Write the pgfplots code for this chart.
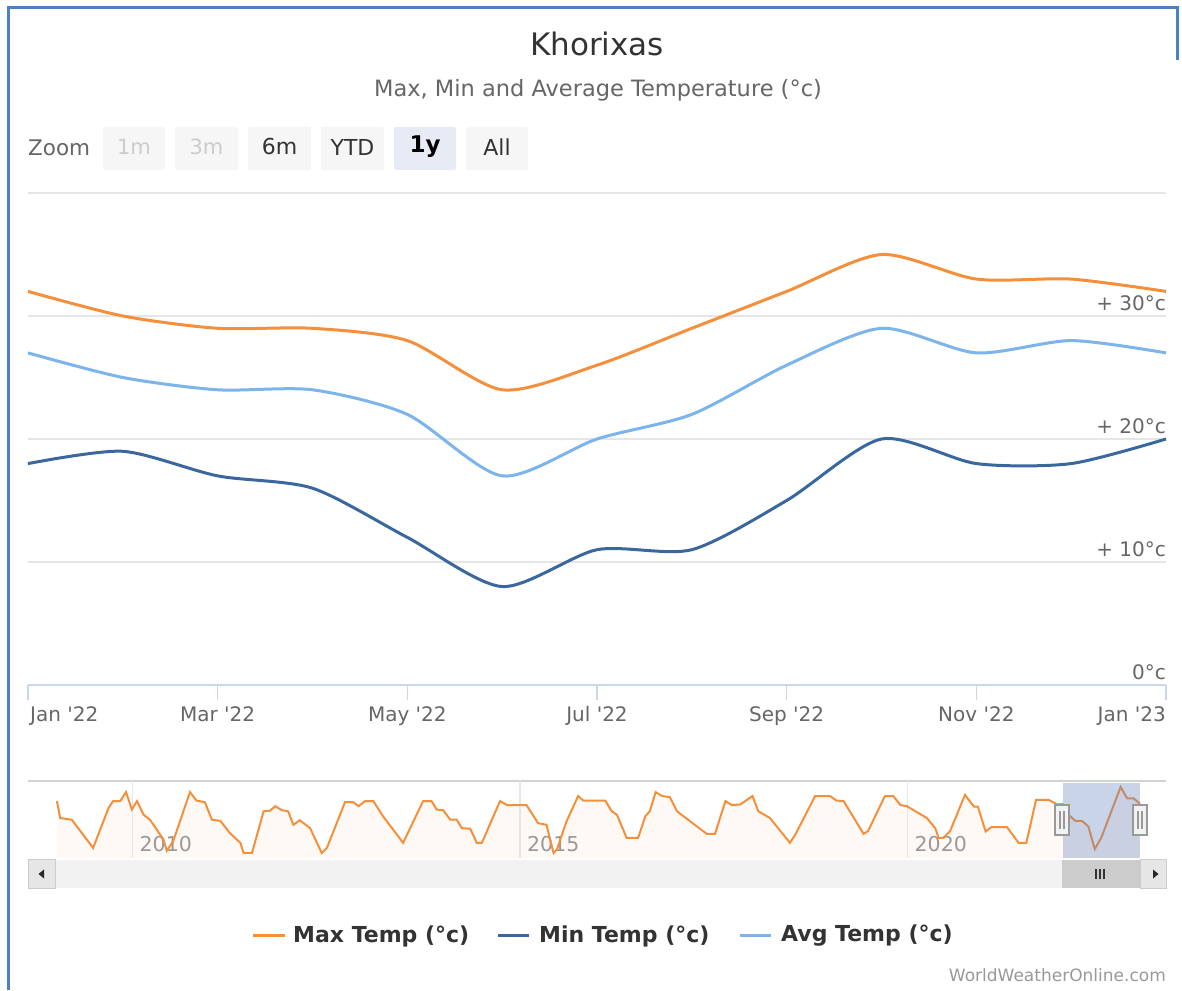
\documentclass[border=0pt]{standalone}
\usepackage{pgfplots}
\pgfplotsset{compat=1.18}
\usepackage{fontspec}
\newfontfamily\dv{DejaVu Sans}
\definecolor{maxc}{RGB}{244,144,60}
\definecolor{minc}{RGB}{58,104,158}
\definecolor{avgc}{RGB}{124,180,236}
\definecolor{gridc}{RGB}{230,230,230}
\definecolor{axc}{RGB}{204,214,235}
\definecolor{txt}{RGB}{51,51,51}
\definecolor{sub}{RGB}{102,102,102}
\definecolor{btn}{RGB}{246,246,246}
\definecolor{btnsel}{RGB}{230,235,245}
\definecolor{dis}{RGB}{204,204,204}
\definecolor{navfill}{RGB}{254,249,244}
\definecolor{maskc}{RGB}{102,133,194}
\definecolor{framec}{RGB}{74,128,200}
\definecolor{navline}{RGB}{210,210,210}
\definecolor{track}{RGB}{242,242,242}
\definecolor{sbtn}{RGB}{230,230,230}
\definecolor{thumb}{RGB}{204,204,204}
\definecolor{foot}{RGB}{153,153,153}
\newcommand{\fs}[1]{\fontsize{#1}{#1}\selectfont}
\begin{document}
\begin{tikzpicture}[x=1pt,y=1pt]
\fill[white] (0,0) rectangle (1182,990);
% frame
\draw[framec, line width=3] (8,0) -- (8,982) -- (1177,982) -- (1177,930);
% titles
\node[font=\dv\fs{31}, text=txt] at (597,946) {Khorixas};
\node[font=\dv\fs{22.5}, text=sub] at (598,900) {Max, Min and Average Temperature (°c)};
% zoom buttons
\node[font=\dv\fs{21.5}, text=sub, anchor=west, inner sep=0] at (28,842) {Zoom};
\fill[btn, rounded corners=2] (103,820) rectangle (165,863);
\fill[btn, rounded corners=2] (175,820) rectangle (238,863);
\fill[btn, rounded corners=2] (248,820) rectangle (311,863);
\fill[btn, rounded corners=2] (321,820) rectangle (384,863);
\fill[btnsel, rounded corners=2] (394,820) rectangle (456,863);
\fill[btn, rounded corners=2] (466,820) rectangle (528,863);
\node[font=\dv\fs{21}, text=dis] at (134,843) {1m};
\node[font=\dv\fs{21}, text=dis] at (206.5,843) {3m};
\node[font=\dv\fs{22}, text=txt] at (279.5,843) {6m};
\node[font=\dv\fs{22}, text=txt] at (352.5,843) {YTD};
\node[font=\dv\bfseries\fs{23}, text=black] at (425,843) {1y};
\node[font=\dv\fs{22}, text=txt] at (497,843) {All};
% main chart
\begin{axis}[at={(28pt,305pt)}, anchor=south west, scale only axis,
  width=1138pt, height=492pt, xmin=0, xmax=12, ymin=0, ymax=40,
  hide axis, clip=false]
\draw[gridc, line width=1.5pt] (axis cs:0,10) -- (axis cs:12,10);
\draw[gridc, line width=1.5pt] (axis cs:0,20) -- (axis cs:12,20);
\draw[gridc, line width=1.5pt] (axis cs:0,30) -- (axis cs:12,30);
\draw[gridc, line width=1.5pt] (axis cs:0,40) -- (axis cs:12,40);
\addplot[maxc, line width=3pt, smooth, tension=0.45] coordinates {
(0,32)(1,30)(2,29)(3,29)(4,28)(5,24)(6,26)(7,29)(8,32)(9,35)(10,33)(11,33)(12,32)};
\addplot[minc, line width=3pt, smooth, tension=0.45] coordinates {
(0,18)(1,19)(2,17)(3,16)(4,12)(5,8)(6,11)(7,11)(8,15)(9,20)(10,18)(11,18)(12,20)};
\addplot[avgc, line width=3pt, smooth, tension=0.45] coordinates {
(0,27)(1,25)(2,24)(3,24)(4,22)(5,17)(6,20)(7,22)(8,26)(9,29)(10,27)(11,28)(12,27)};
\draw[axc, line width=2pt] (axis cs:0,0) -- (axis cs:12,0);
\draw[axc, line width=1.5pt] (axis cs:0,0) -- ++(0pt,-15pt);
\draw[axc, line width=1.5pt] (axis cs:2,0) -- ++(0pt,-15pt);
\draw[axc, line width=1.5pt] (axis cs:4,0) -- ++(0pt,-15pt);
\draw[axc, line width=1.5pt] (axis cs:6,0) -- ++(0pt,-15pt);
\draw[axc, line width=1.5pt] (axis cs:8,0) -- ++(0pt,-15pt);
\draw[axc, line width=1.5pt] (axis cs:10,0) -- ++(0pt,-15pt);
\draw[axc, line width=1.5pt] (axis cs:12,0) -- ++(0pt,-15pt);
\node[font=\dv\fs{20}, text=sub, anchor=base west, inner sep=0] at (axis cs:0,0) [xshift=2pt, yshift=-37pt] {Jan '22};
\node[font=\dv\fs{20}, text=sub, anchor=base, inner sep=0] at (axis cs:2,0) [yshift=-37pt] {Mar '22};
\node[font=\dv\fs{20}, text=sub, anchor=base, inner sep=0] at (axis cs:4,0) [yshift=-37pt] {May '22};
\node[font=\dv\fs{20}, text=sub, anchor=base, inner sep=0] at (axis cs:6,0) [yshift=-37pt] {Jul '22};
\node[font=\dv\fs{20}, text=sub, anchor=base, inner sep=0] at (axis cs:8,0) [yshift=-37pt] {Sep '22};
\node[font=\dv\fs{20}, text=sub, anchor=base, inner sep=0] at (axis cs:10,0) [yshift=-37pt] {Nov '22};
\node[font=\dv\fs{20}, text=sub, anchor=base east, inner sep=0] at (axis cs:12,0) [yshift=-37pt] {Jan '23};
\node[font=\dv\fs{20}, text=sub, anchor=base east, inner sep=0] at (axis cs:12,0) [yshift=5pt] {0°c};
\node[font=\dv\fs{20}, text=sub, anchor=base east, inner sep=0] at (axis cs:12,10) [yshift=5pt] {+ 10°c};
\node[font=\dv\fs{20}, text=sub, anchor=base east, inner sep=0] at (axis cs:12,20) [yshift=5pt] {+ 20°c};
\node[font=\dv\fs{20}, text=sub, anchor=base east, inner sep=0] at (axis cs:12,30) [yshift=5pt] {+ 30°c};
\end{axis}
% navigator
\draw[navline, line width=2pt] (28,209) -- (1166,209);
\begin{axis}[at={(55pt,132pt)}, anchor=south west, scale only axis,
  width=1085pt, height=75pt, xmin=0, xmax=168, ymin=22.41, ymax=35.71,
  hide axis, clip=false]
\addplot[draw=none, fill=navfill] coordinates {
(0.3,32.5)(0.8,29.5)(2.6,29.2)(5.9,24.2)(8.3,31.3)(9.0,32.5)(10.1,32.5)(11.0,34.1)(11.9,31.0)(12.7,32.5)(13.7,30.1)(14.7,29.2)(16.8,25.7)(17.3,23.7)(18.3,25.4)(20.9,34.1)(21.9,32.6)(23.2,32.3)(24.3,29.2)(25.6,29.0)(27.1,26.8)(28.7,25.1)(29.2,23.3)(30.5,23.3)(32.3,30.7)(33.3,30.8)(34.1,31.6)(35.1,30.9)(36.1,30.7)(36.9,28.3)(37.9,29.1)(39.5,27.7)(41.3,23.3)(42.1,24.2)(44.9,32.3)(46.2,32.3)(47.0,31.6)(48.0,32.5)(49.3,32.5)(50.8,29.8)(53.9,25.1)(57.0,32.5)(58.3,32.5)(59.1,31.0)(60.1,30.9)(61.2,29.2)(62.2,29.2)(63.0,27.7)(64.3,27.6)(65.3,25.1)(66.1,25.1)(68.9,32.5)(70.0,31.8)(73.0,31.8)(74.8,28.6)(76.1,28.3)(77.2,23.3)(77.7,23.9)(79.2,28.9)(81.0,33.4)(81.8,32.6)(85.2,32.6)(86.2,30.7)(87.0,30.1)(88.5,26.0)(90.3,26.0)(91.4,29.8)(92.1,30.7)(93.0,34.1)(94.0,33.4)(95.2,33.2)(96.3,30.7)(100.9,26.7)(102.2,26.7)(103.8,32.5)(104.8,31.8)(106.1,31.9)(108.0,33.4)(108.9,30.7)(110.7,29.5)(113.8,25.1)(114.6,26.5)(117.7,33.4)(120.0,33.4)(121.0,32.6)(122.1,32.5)(125.2,26.7)(125.9,27.2)(128.5,33.4)(129.8,33.4)(130.9,31.8)(131.9,31.6)(135.0,29.5)(136.3,27.7)(136.8,26.0)(137.6,26.0)(138.6,27.2)(140.9,33.6)(142.3,31.5)(142.9,31.5)(144.1,27.1)(145.0,27.9)(147.4,27.9)(149.2,25.1)(150.4,25.1)(151.9,32.7)(153.9,32.7)(155.2,31.9)
(156,32)(157,30)(158,29)(159,29)(160,28)(161,24)(162,26)(163,29)(164,32)(165,35)(166,33)(167,33)(168,32)} \closedcycle;
\draw[gridc, line width=1.5pt] (axis cs:12,22.41) -- ++(0pt,77pt);
\draw[gridc, line width=1.5pt] (axis cs:72,22.41) -- ++(0pt,77pt);
\draw[gridc, line width=1.5pt] (axis cs:132,22.41) -- ++(0pt,77pt);
\node[font=\dv\fs{20.5}, text=foot, anchor=base west, inner sep=0] at (axis cs:12,22.41) [xshift=7pt, yshift=7pt] {2010};
\node[font=\dv\fs{20.5}, text=foot, anchor=base west, inner sep=0] at (axis cs:72,22.41) [xshift=7pt, yshift=7pt] {2015};
\node[font=\dv\fs{20.5}, text=foot, anchor=base west, inner sep=0] at (axis cs:132,22.41) [xshift=7pt, yshift=7pt] {2020};
\addplot[maxc, line width=2pt] coordinates {
(0.3,32.5)(0.8,29.5)(2.6,29.2)(5.9,24.2)(8.3,31.3)(9.0,32.5)(10.1,32.5)(11.0,34.1)(11.9,31.0)(12.7,32.5)(13.7,30.1)(14.7,29.2)(16.8,25.7)(17.3,23.7)(18.3,25.4)(20.9,34.1)(21.9,32.6)(23.2,32.3)(24.3,29.2)(25.6,29.0)(27.1,26.8)(28.7,25.1)(29.2,23.3)(30.5,23.3)(32.3,30.7)(33.3,30.8)(34.1,31.6)(35.1,30.9)(36.1,30.7)(36.9,28.3)(37.9,29.1)(39.5,27.7)(41.3,23.3)(42.1,24.2)(44.9,32.3)(46.2,32.3)(47.0,31.6)(48.0,32.5)(49.3,32.5)(50.8,29.8)(53.9,25.1)(57.0,32.5)(58.3,32.5)(59.1,31.0)(60.1,30.9)(61.2,29.2)(62.2,29.2)(63.0,27.7)(64.3,27.6)(65.3,25.1)(66.1,25.1)(68.9,32.5)(70.0,31.8)(73.0,31.8)(74.8,28.6)(76.1,28.3)(77.2,23.3)(77.7,23.9)(79.2,28.9)(81.0,33.4)(81.8,32.6)(85.2,32.6)(86.2,30.7)(87.0,30.1)(88.5,26.0)(90.3,26.0)(91.4,29.8)(92.1,30.7)(93.0,34.1)(94.0,33.4)(95.2,33.2)(96.3,30.7)(100.9,26.7)(102.2,26.7)(103.8,32.5)(104.8,31.8)(106.1,31.9)(108.0,33.4)(108.9,30.7)(110.7,29.5)(113.8,25.1)(114.6,26.5)(117.7,33.4)(120.0,33.4)(121.0,32.6)(122.1,32.5)(125.2,26.7)(125.9,27.2)(128.5,33.4)(129.8,33.4)(130.9,31.8)(131.9,31.6)(135.0,29.5)(136.3,27.7)(136.8,26.0)(137.6,26.0)(138.6,27.2)(140.9,33.6)(142.3,31.5)(142.9,31.5)(144.1,27.1)(145.0,27.9)(147.4,27.9)(149.2,25.1)(150.4,25.1)(151.9,32.7)(153.9,32.7)(155.2,31.9)
(156,32)(157,30)(158,29)(159,29)(160,28)(161,24)(162,26)(163,29)(164,32)(165,35)(166,33)(167,33)(168,32)};
\fill[maskc, opacity=0.35] (axis cs:156,22.41) rectangle (axis cs:168,35.71);
\end{axis}
% handles
\filldraw[fill=track, draw=foot, line width=1.2pt] (1055,155) rectangle (1069,185);
\draw[foot, line width=1.2pt] (1060,161) -- (1060,179) (1064,161) -- (1064,179);
\filldraw[fill=track, draw=foot, line width=1.2pt] (1133,155) rectangle (1147,185);
\draw[foot, line width=1.2pt] (1138,161) -- (1138,179) (1142,161) -- (1142,179);
% scrollbar
\fill[track] (28,102) rectangle (1166,130);
\filldraw[fill=sbtn, draw=thumb, line width=1pt] (28,102) rectangle (55,130);
\filldraw[fill=sbtn, draw=thumb, line width=1pt] (1140,102) rectangle (1166,130);
\fill[black!85] (38.5,116) -- (44,120.5) -- (44,111.5) -- cycle;
\fill[black!85] (1158.5,116) -- (1153,120.5) -- (1153,111.5) -- cycle;
\fill[thumb] (1062,102) rectangle (1140,130);
\draw[black!80, line width=1.5pt] (1096,111) -- (1096,121) (1100,111) -- (1100,121) (1104,111) -- (1104,121);
% legend
\draw[maxc, line width=3pt] (253,55) -- (285,55);
\node[font=\dv\bfseries\fs{22}, text=txt, anchor=west, inner sep=0] at (293,54) {Max Temp (°c)};
\draw[minc, line width=3pt] (498,55) -- (529,55);
\node[font=\dv\bfseries\fs{22}, text=txt, anchor=west, inner sep=0] at (539,54) {Min Temp (°c)};
\draw[avgc, line width=3pt] (740,55) -- (771,55);
\node[font=\dv\bfseries\fs{22}, text=txt, anchor=west, inner sep=0] at (781,54) {Avg Temp (°c)};
% footer
\node[font=\dv\fs{17}, text=foot, anchor=base east, inner sep=0] at (1166,9) {WorldWeatherOnline.com};
\pgfresetboundingbox
\useasboundingbox (0,0) rectangle (1182,990);
\end{tikzpicture}
\end{document}
